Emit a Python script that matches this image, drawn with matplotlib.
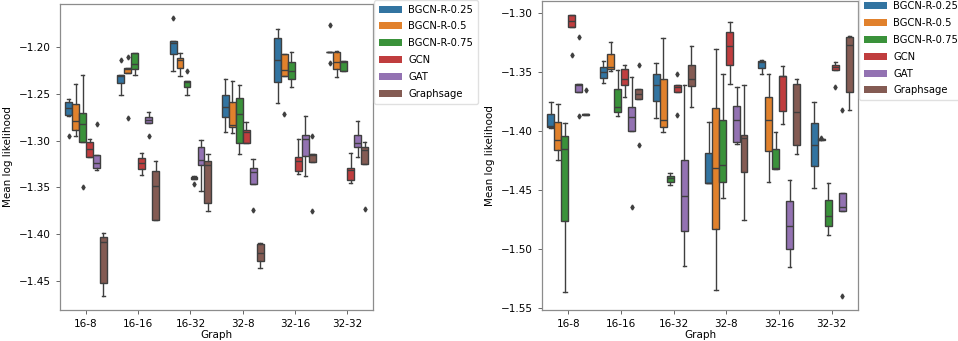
import matplotlib
matplotlib.use("Agg")
import matplotlib.pyplot as plt
from matplotlib.patches import Patch

graphs = ["16-8", "16-16", "16-32", "32-8", "32-16", "32-32"]
models = ["BGCN-R-0.25", "BGCN-R-0.5", "BGCN-R-0.75", "GCN", "GAT", "Graphsage"]
colors = ["#3274a1", "#e1812c", "#3a923a", "#c03d3e", "#9372b2", "#845b53"]

# box stats per model (rows) and graph (cols): [whislo, q1, med, q3, whishi]
left_stats = [
    [[-1.274, -1.273, -1.2646, -1.2589, -1.2554], [-1.2511, -1.2382, -1.2311, -1.2293, -1.2293],
     [-1.2254, -1.2075, -1.1957, -1.1929, -1.1929], [-1.2904, -1.275, -1.2643, -1.2511, -1.2343],
     [-1.26, -1.2375, -1.2139, -1.19, -1.18], [-1.2051, -1.2051, -1.205, -1.2049, -1.2049]],
    [[-1.295, -1.2886, -1.2786, -1.2611, -1.2396], [-1.2279, -1.2279, -1.2236, -1.2218, -1.2218],
     [-1.2304, -1.2225, -1.2136, -1.2118, -1.2061], [-1.2921, -1.2854, -1.2836, -1.2582, -1.2364],
     [-1.2311, -1.2311, -1.2243, -1.2068, -1.2068], [-1.2314, -1.2229, -1.2157, -1.2046, -1.2036]],
    [[-1.302, -1.3018, -1.2825, -1.2707, -1.230], [-1.230, -1.2232, -1.2182, -1.2061, -1.2061],
     [-1.2507, -1.2425, -1.2375, -1.2361, -1.2361], [-1.3146, -1.3029, -1.2714, -1.2539, -1.2407],
     [-1.2429, -1.2339, -1.225, -1.2157, -1.2054], [-1.225, -1.225, -1.2154, -1.2146, -1.2146]],
    [[-1.318, -1.3171, -1.3089, -1.3011, -1.2979], [-1.3371, -1.3307, -1.3236, -1.3182, -1.3132],
     [-1.3414, -1.3414, -1.3404, -1.3393, -1.3375], [-1.3021, -1.3021, -1.2911, -1.2886, -1.2804],
     [-1.3354, -1.3325, -1.3221, -1.3179, -1.2979], [-1.3454, -1.3421, -1.3311, -1.3289, -1.3132]],
    [[-1.3318, -1.3296, -1.3243, -1.315, -1.315], [-1.2811, -1.2811, -1.2779, -1.2746, -1.2696],
     [-1.3543, -1.3264, -1.3211, -1.3071, -1.2993], [-1.3461, -1.3461, -1.3332, -1.3289, -1.32],
     [-1.3375, -1.3164, -1.2986, -1.2939, -1.2739], [-1.3179, -1.3071, -1.3021, -1.2939, -1.2786]],
    [[-1.4664, -1.4532, -1.4086, -1.4032, -1.3989], [-1.3854, -1.3854, -1.3489, -1.3329, -1.3214],
     [-1.375, -1.3664, -1.3257, -1.3221, -1.3146], [-1.4361, -1.4296, -1.4207, -1.4111, -1.4093],
     [-1.3229, -1.3229, -1.3154, -1.3146, -1.3146], [-1.3246, -1.3246, -1.3104, -1.3064, -1.3011]],
]
# outliers: (model index, graph index) -> values
left_fliers = {
    (0, 0): [-1.295], (0, 1): [-1.2139], (0, 2): [-1.1682], (0, 5): [-1.1757, -1.2171],
    (1, 1): [-1.2107, -1.2754], (1, 4): [-1.2711],
    (2, 0): [-1.350], (2, 2): [-1.225],
    (3, 2): [-1.3468],
    (4, 0): [-1.2821], (4, 1): [-1.2946], (4, 3): [-1.3743],
    (5, 4): [-1.2946, -1.3754], (5, 5): [-1.3736],
}

right_stats = [
    [[-1.3972, -1.3967, -1.3958, -1.386, -1.3758], [-1.3598, -1.3552, -1.3499, -1.3457, -1.3406],
     [-1.3888, -1.375, -1.3614, -1.3521, -1.3428], [-1.4443, -1.4443, -1.4440, -1.4184, -1.3927],
     [-1.3519, -1.3471, -1.3417, -1.3409, -1.34], [-1.448, -1.4297, -1.4119, -1.3936, -1.3753]],
    [[-1.4246, -1.4164, -1.4079, -1.3927, -1.3775], [-1.349, -1.3473, -1.3457, -1.3352, -1.3251],
     [-1.4009, -1.3964, -1.391, -1.3564, -1.3217], [-1.5345, -1.4826, -1.4311, -1.3809, -1.331],
     [-1.4429, -1.4167, -1.3908, -1.3716, -1.3521], [-1.4075, -1.4073, -1.4071, -1.407, -1.4068]],
    [[-1.5359, -1.4759, -1.4156, -1.4046, -1.393], [-1.3877, -1.3843, -1.38, -1.3645, -1.3485],
     [-1.4457, -1.4429, -1.4401, -1.4378, -1.4353], [-1.4564, -1.4429, -1.4288, -1.3908, -1.3521],
     [-1.4325, -1.4322, -1.4311, -1.4156, -1.4006], [-1.488, -1.4801, -1.4716, -1.4584, -1.4443]],
    [[-1.3124, -1.3124, -1.3068, -1.302, -1.3017], [-1.371, -1.3612, -1.3558, -1.3476, -1.3445],
     [-1.3668, -1.3668, -1.3631, -1.3614, -1.3614], [-1.3606, -1.3445, -1.3282, -1.3166, -1.3079],
     [-1.3944, -1.3829, -1.3533, -1.3533, -1.3448], [-1.3485, -1.3485, -1.3462, -1.3442, -1.342]],
    [[-1.3674, -1.3674, -1.3612, -1.3606, -1.3606], [-1.4001, -1.4001, -1.3885, -1.3795, -1.3547],
     [-1.5142, -1.4849, -1.4547, -1.4249, -1.3609], [-1.4113, -1.4091, -1.3905, -1.3789, -1.3631],
     [-1.515, -1.5001, -1.4807, -1.4592, -1.4418], [-1.4677, -1.4677, -1.464, -1.4522, -1.4522]],
    [[-1.3862, -1.3861, -1.386, -1.3858, -1.3857], [-1.3733, -1.3733, -1.3691, -1.3643, -1.3643],
     [-1.3795, -1.3617, -1.3561, -1.344, -1.3279], [-1.4753, -1.435, -1.4063, -1.4037, -1.3614],
     [-1.4192, -1.4116, -1.384, -1.3606, -1.3558], [-1.3823, -1.3668, -1.3273, -1.3203, -1.3197]],
]
right_fliers = {
    (1, 5): [-1.4062],
    (3, 0): [-1.3361], (3, 2): [-1.3519, -1.3862], (3, 5): [-1.3631],
    (4, 0): [-1.3203, -1.3877], (4, 1): [-1.464], (4, 5): [-1.3823, -1.5393],
    (5, 0): [-1.3657], (5, 1): [-1.3445, -1.4116],
}

left_ylim = (-1.4816, -1.1536)
right_ylim = (-1.5514, -1.2901)

line_col = "#3f3f3f"
fs = 7.5


def draw_panel(ax, stats, fliers, ylim):
    n = len(models)
    w = 0.8 / n
    for h in range(n):
        bx = []
        for g in range(len(graphs)):
            lo, q1, med, q3, hi = stats[h][g]
            bx.append(dict(whislo=lo, q1=q1, med=med, q3=q3, whishi=hi,
                           fliers=fliers.get((h, g), [])))
        pos = [g + (h - (n - 1) / 2) * w for g in range(len(graphs))]
        ax.bxp(bx, positions=pos, widths=w * 0.98, patch_artist=True,
               manage_ticks=False,
               boxprops=dict(facecolor=colors[h], edgecolor=line_col, linewidth=1.0),
               medianprops=dict(color=line_col, linewidth=1.0),
               whiskerprops=dict(color=line_col, linewidth=1.0),
               capprops=dict(color=line_col, linewidth=1.0),
               flierprops=dict(marker="d", markersize=2.5, markerfacecolor=line_col,
                               markeredgecolor=line_col, linestyle="none"))
    ax.set_xlim(-0.5, len(graphs) - 0.5)
    ax.set_ylim(*ylim)
    ax.set_xticks(range(len(graphs)))
    ax.set_xticklabels(graphs)
    ax.tick_params(labelsize=fs, length=3, width=0.6, color="0.3")
    ax.set_xlabel("Graph", fontsize=fs, labelpad=1)
    ax.set_ylabel("Mean log likelihood", fontsize=fs)
    for s in ax.spines.values():
        s.set_color("0.55")
        s.set_linewidth(0.9)
    handles = [Patch(facecolor=c, edgecolor="none") for c in colors]
    ax.legend(handles, models, loc="upper left", bbox_to_anchor=(1.003, 1.015),
              borderaxespad=0, fontsize=7.2, frameon=True, edgecolor="0.85",
              handlelength=2.3, handletextpad=0.6, borderpad=0.5,
              labelspacing=0.68, fancybox=True)


fig = plt.figure(figsize=(9.58, 3.41), dpi=100)
ax1 = fig.add_axes([0.0626, 0.091, 0.327, 0.897])
ax2 = fig.add_axes([0.5658, 0.091, 0.3299, 0.906])
draw_panel(ax1, left_stats, left_fliers, left_ylim)
draw_panel(ax2, right_stats, right_fliers, right_ylim)
ax1.set_yticks([-1.20, -1.25, -1.30, -1.35, -1.40, -1.45])
ax2.set_yticks([-1.30, -1.35, -1.40, -1.45, -1.50, -1.55])
fig.savefig("out.png", dpi=100)
